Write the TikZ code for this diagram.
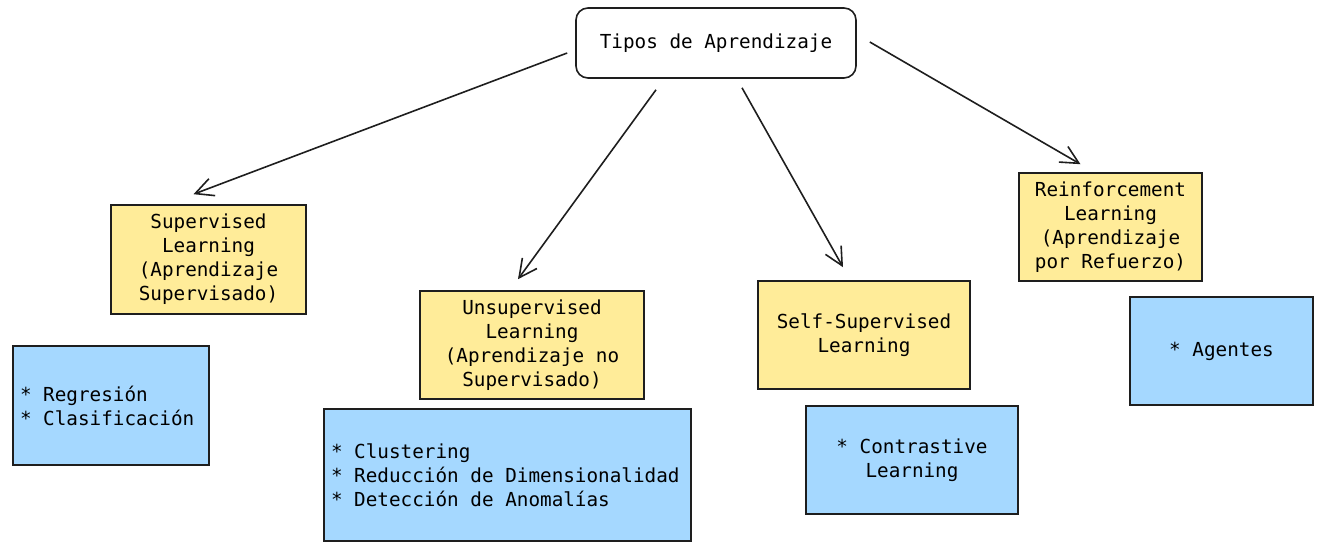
\documentclass[tikz,border=0pt]{standalone}
\usepackage{fontspec}
\setmonofont[WordSpace={1,0,0}]{DejaVu Sans Mono}
\usetikzlibrary{arrows.meta}
\definecolor{amarillo}{HTML}{FFEC99}
\definecolor{azul}{HTML}{A5D8FF}
\definecolor{trazo}{HTML}{1E1E1E}

\begin{document}
\begin{tikzpicture}
[x=1pt,y=-1pt
,box/.style={draw=trazo,line width=1.6pt,inner sep=0pt,font=\ttfamily\fontsize{19.3}{24}\selectfont}
,root/.style={box,rounded corners=12pt,minimum width=280pt,minimum height=70pt}
,tipo/.style={box,fill=amarillo,align=center}
,ejem/.style={box,fill=azul,align=flush left,inner xsep=7pt}
,be/.style={draw=trazo,line width=1.6pt,arrows={-Straight Barb[length=18pt,width=18pt]}}
]
\useasboundingbox (0,0) rectangle (1342,551);
\node[root] (tipos) at (716,43) {Tipos de Aprendizaje};
\node[tipo,minimum width=195pt,minimum height=109pt] (sup) at (208.5,259.5)
  {Supervised\\Learning\\(Aprendizaje\\Supervisado)};
\node[tipo,minimum width=224pt,minimum height=108pt] (unsup) at (532,345)
  {Unsupervised\\Learning\\(Aprendizaje no\\Supervisado)};
\node[tipo,minimum width=212pt,minimum height=108pt] (self) at (864,335)
  {Self-Supervised\\Learning};
\node[tipo,minimum width=183pt,minimum height=108pt] (reinf) at (1110.5,227)
  {Reinforcement\\Learning\\(Aprendizaje\\por Refuerzo)};
\node[ejem,text width=182pt,minimum height=119pt] (ejsup) at (111,405.5)
  {* Regresión\\{}* Clasificación};
\node[ejem,text width=353pt,minimum height=132pt] (ejunsup) at (507.5,475)
  {* Clustering\\{}* Reducción de Dimensionalidad\\{}* Detección de Anomalías};
\node[ejem,align=flush center,text width=198pt,minimum height=108pt] (ejself) at (912,460)
  {* Contrastive\\Learning};
\node[ejem,align=flush center,text width=169pt,minimum height=108pt] (ejreinf) at (1221.5,351)
  {* Agentes};
\draw[be] ([shift={(-8,10)}]tipos.west) -- ([shift={(-15,-10)}]sup.north);
\draw[be] ([shift={(-60,11)}]tipos.south) -- ([shift={(-14,-11)}]unsup.north);
\draw[be] ([shift={(26,9)}]tipos.south) -- ([shift={(-21,-13)}]self.north);
\draw[be] ([shift={(13,-1)}]tipos.east) -- ([shift={(-30,-8)}]reinf.north);
\end{tikzpicture}
\end{document}
